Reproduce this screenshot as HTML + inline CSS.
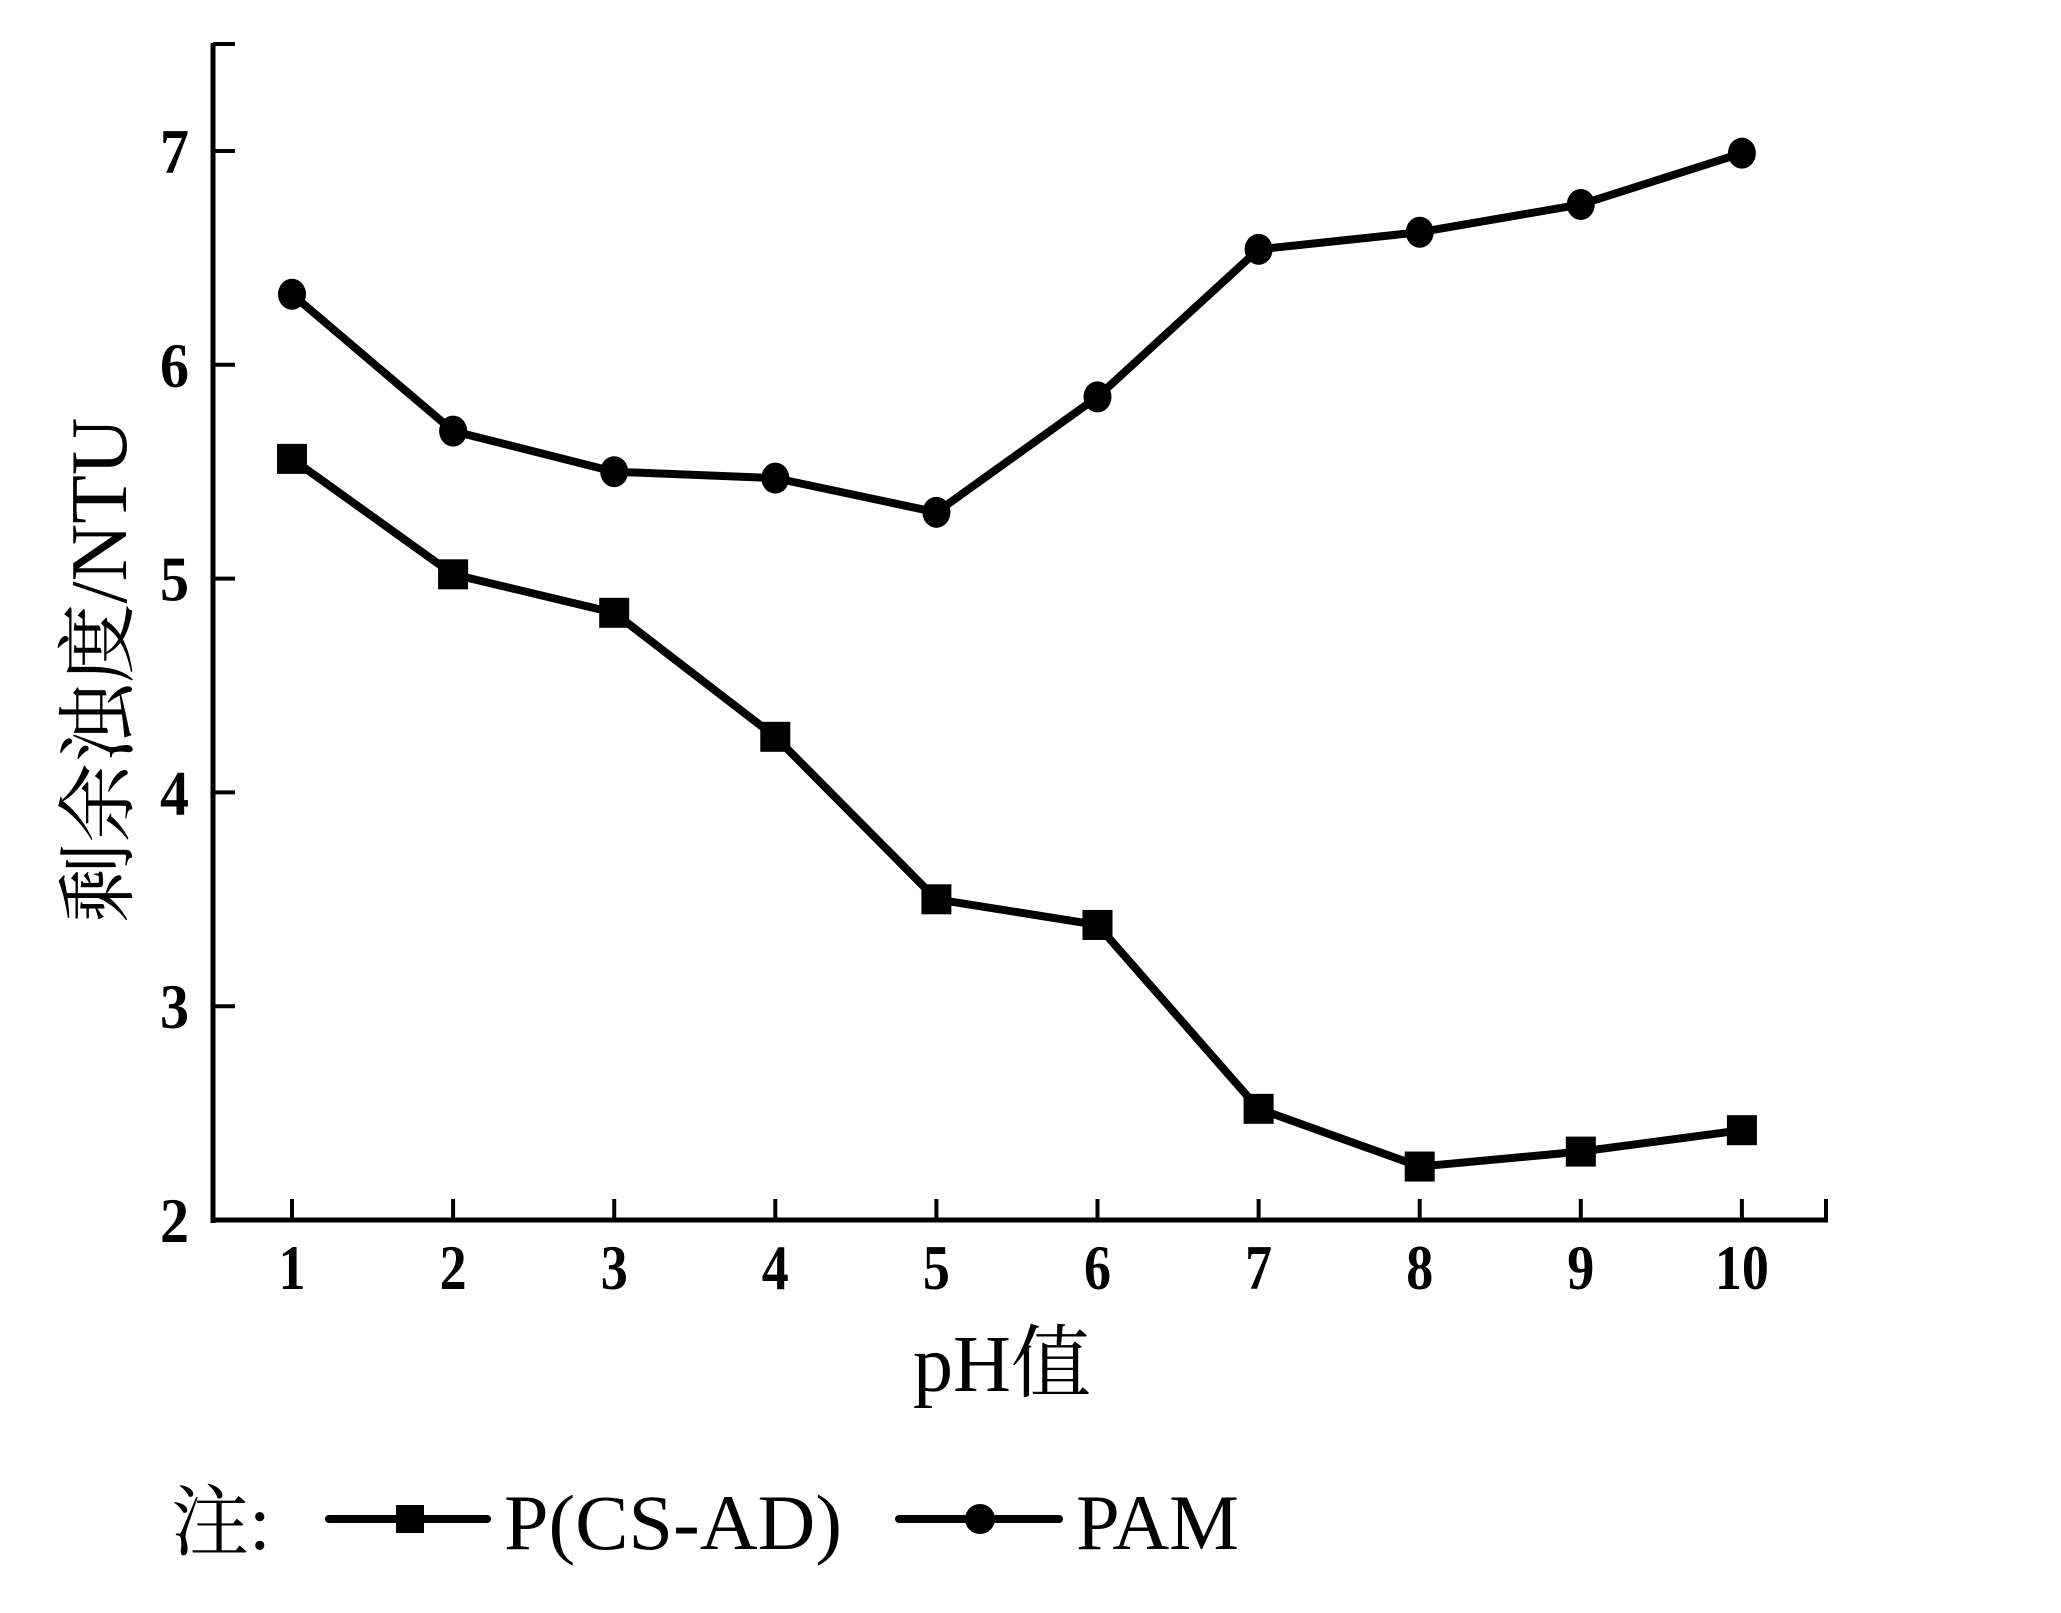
<!DOCTYPE html>
<html><head><meta charset="utf-8"><style>html,body{margin:0;padding:0;background:#fff}svg{display:block}</style></head>
<body>
<svg id="chart" width="2061" height="1613" viewBox="0 0 2061 1613" xmlns="http://www.w3.org/2000/svg" font-family="'Liberation Serif','Noto Serif CJK SC',serif">
<g id="axes"></g>
<g id="series"></g>
<text x="1002" y="1391" font-size="80" text-anchor="middle" textLength="178" lengthAdjust="spacingAndGlyphs">pH值</text>
<text transform="translate(126,670) rotate(-90)" font-size="80" text-anchor="middle" textLength="505" lengthAdjust="spacingAndGlyphs">剩余浊度/NTU</text>
<g>
<text x="171" y="1549" font-size="78">注:</text>
<line x1="329" y1="1519" x2="487" y2="1519" stroke="#000" stroke-width="8" stroke-linecap="round"/>
<rect x="396" y="1505" width="28" height="28" fill="#000"/>
<text x="504" y="1549" font-size="78" textLength="338" lengthAdjust="spacingAndGlyphs">P(CS-AD)</text>
<line x1="899" y1="1519" x2="1059" y2="1519" stroke="#000" stroke-width="8" stroke-linecap="round"/>
<circle cx="980" cy="1519" r="15" fill="#000"/>
<text x="1076" y="1549" font-size="78" textLength="163" lengthAdjust="spacingAndGlyphs">PAM</text>
</g>
</svg>
<script>
const categories = [1,2,3,4,5,6,7,8,9,10];
const pcsadValues = [5.56,5.02,4.84,4.26,3.50,3.38,2.52,2.25,2.32,2.42];
const pamValues = [6.33,5.69,5.50,5.47,5.31,5.85,6.54,6.62,6.75,6.99];
const yTicks = [2,3,4,5,6,7];
const xTickLabels = ['1','2','3','4','5','6','7','8','9','10'];

const NS = 'http://www.w3.org/2000/svg';
function xs(v){ return 292 + (v-1)*161.1; }
function ys(v){ return 1220 - (v-2)*213.8; }
function mk(tag, attrs, parent){ const e=document.createElementNS(NS,tag); for(const k in attrs) e.setAttribute(k,attrs[k]); parent.appendChild(e); return e; }
const axes=document.getElementById('axes'), series=document.getElementById('series');

let l=mk('line',{x1:213,y1:43,x2:213,y2:1223,stroke:'#000','stroke-width':5},axes);


l=mk('line',{x1:211,y1:1220,x2:1828,y2:1220,stroke:'#000','stroke-width':5},axes);


l=mk('line',{x1:213,y1:44,x2:235,y2:44,stroke:'#000','stroke-width':4},axes);


l=mk('line',{x1:1826,y1:1220,x2:1826,y2:1199,stroke:'#000','stroke-width':4},axes);



yTicks.forEach(v=>{
  const t=mk('line',{x1:213,y1:ys(v),x2:235,y2:ys(v),stroke:'#000','stroke-width':4},axes);
  
  
  const tx=mk('text',{x:160,y:ys(v)+22,'font-size':64,'font-weight':'bold',textLength:29,lengthAdjust:'spacingAndGlyphs'},axes);
  
  
  tx.textContent=String(v);
});
categories.forEach((c,i)=>{
  const t=mk('line',{x1:xs(c),y1:1220,x2:xs(c),y2:1199,stroke:'#000','stroke-width':4},axes);
  
  
  const w=xTickLabels[i].length*27;
  const tx=mk('text',{x:xs(c)-w/2,y:1289,'font-size':64,'font-weight':'bold',textLength:w,lengthAdjust:'spacingAndGlyphs'},axes);
  
  
  tx.textContent=xTickLabels[i];
});

function drawLine(vals,name){
  const p=mk('polyline',{points:categories.map((c,i)=>xs(c)+','+ys(vals[i])).join(' '),fill:'none',stroke:'#000','stroke-width':8,'stroke-linejoin':'round'},series);
  
  
}
drawLine(pcsadValues,'pcsad');
drawLine(pamValues,'pam');
categories.forEach((c,i)=>{
  const r=mk('rect',{x:xs(c)-15,y:ys(pcsadValues[i])-15,width:30,height:30,fill:'#000'},series);
  
  
  const ci=mk('ellipse',{cx:xs(c),cy:ys(pamValues[i]),rx:14,ry:15.5,fill:'#000'},series);
  
  
});
</script>
</body></html>
